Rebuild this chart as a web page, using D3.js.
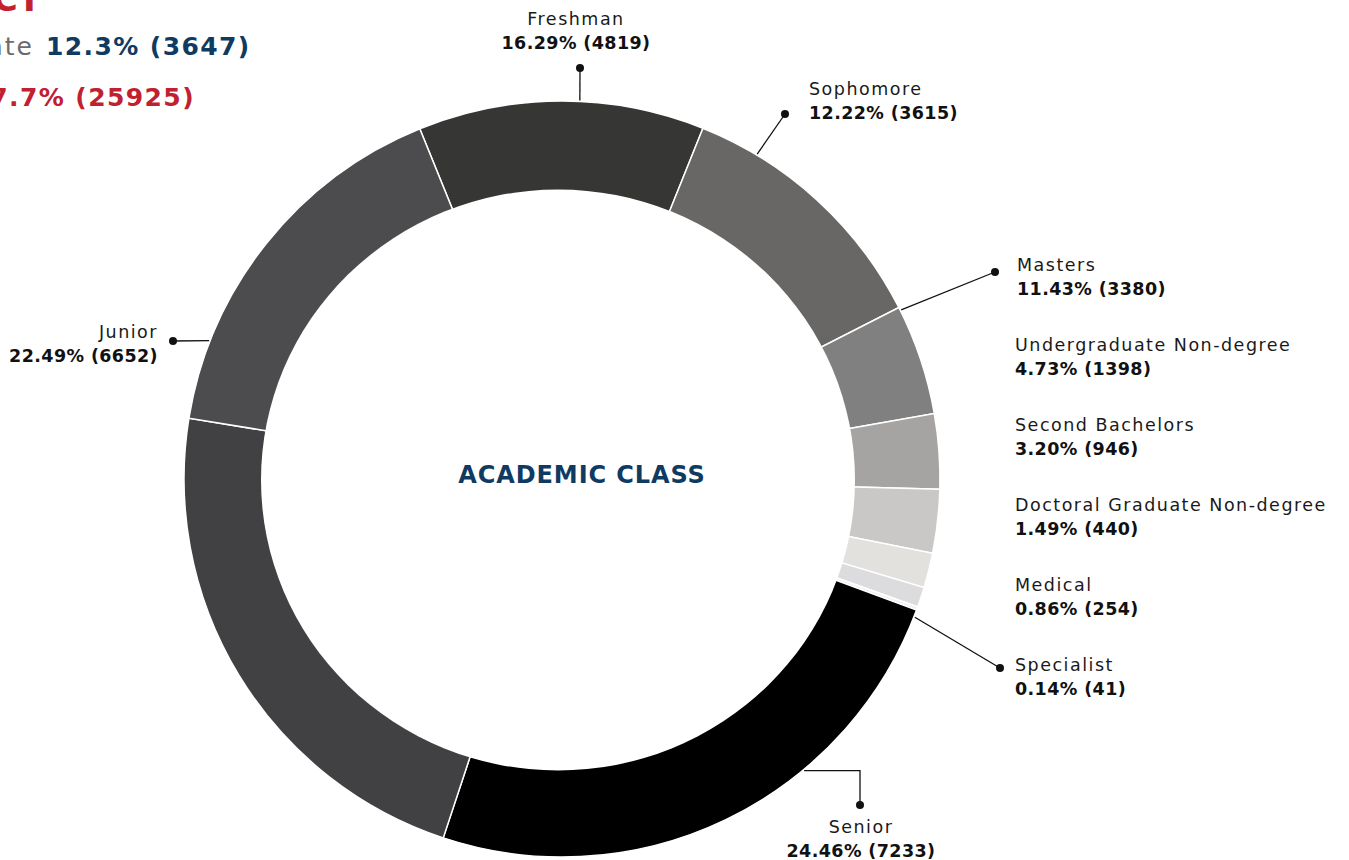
<!DOCTYPE html>
<html>
<head>
<meta charset="utf-8">
<script src="https://cdn.jsdelivr.net/npm/d3@7"></script>
<style>
  body { margin: 0; background: #fff; overflow: hidden; }
  svg { display: block; font-family: "DejaVu Sans", sans-serif; }
  .name { font-size: 17.5px; fill: #1a1a1a; letter-spacing: 1.5px; }
  .val { font-size: 17.5px; font-weight: bold; fill: #111; letter-spacing: 0.4px; }
  .head { font-size: 25px; font-weight: bold; letter-spacing: 1.4px; }
</style>
</head>
<body>
<svg width="1349" height="860"></svg>
<script>
// slices in drawing order, clockwise from the top
const categories = ['Sophomore', 'Masters', 'Undergraduate Non-degree', 'Second Bachelors', 'Doctoral',
  'Doctoral Graduate Non-degree', 'Medical', 'Specialist', 'Senior', 'Junior', 'Freshman'];
const counts = [3615, 3380, 1398, 946, 805, 440, 254, 41, 7233, 6652, 4819];
const colors = ['#363634', '#686765', '#7f807f', '#a6a4a3', '#c9c8c7', '#e3e1de', '#dcdbdd', '#efefef',
  '#000000', '#414143', '#4c4b4d'];

// callout labels as printed on the chart
const labelNames = ['Freshman', 'Sophomore', 'Masters', 'Undergraduate Non-degree', 'Second Bachelors',
  'Doctoral Graduate Non-degree', 'Medical', 'Specialist', 'Junior', 'Senior'];
const labelValues = ['16.29% (4819)', '12.22% (3615)', '11.43% (3380)', '4.73% (1398)', '3.20% (946)',
  '1.49% (440)', '0.86% (254)', '0.14% (41)', '22.49% (6652)', '24.46% (7233)'];

// header fragments (cut by the left edge)
const headerTitle = 'IMPACT';
const headerPre = 'Graduate';
const headerValues = ['12.3% (3647)', '87.7% (25925)'];

const svg = d3.select('svg');
const cx = 562, cy = 479;
const outerR = 378, innerR = 285;

const start = -22.1 * Math.PI / 180;
const pie = d3.pie().sort(null).startAngle(start).endAngle(start + 2 * Math.PI);
const arc = d3.arc().innerRadius(innerR).outerRadius(outerR);
const arcs = pie(counts);

const g = svg.append('g').attr('transform', `translate(${cx},${cy})`);
g.selectAll('path')
  .data(arcs)
  .enter()
  .append('path')
  .attr('d', arc)
  .attr('fill', (d, i) => colors[i])
  .attr('stroke', '#fff')
  .attr('stroke-width', 1.5);

// the hole is a little off-centre in the original
svg.append('ellipse')
  .attr('cx', 558).attr('cy', 480)
  .attr('rx', 297).attr('ry', 290.5)
  .attr('fill', '#fff');

svg.append('text')
  .attr('x', 582)
  .attr('y', 483)
  .attr('text-anchor', 'middle')
  .style('font-size', '24px')
  .style('font-weight', 'bold')
  .style('letter-spacing', '0.9px')
  .style('fill', '#0f3a62')
  .text('ACADEMIC CLASS');

// label layout: text anchor, position, dot and leader end angle (deg, clockwise from top)
const layout = [
  { x: 576, y: 25, anchor: 'middle', dot: [580, 68], end: 2.7 },
  { x: 809, y: 95, anchor: 'start', dot: [785, 114], end: 31 },
  { x: 1017, y: 271, anchor: 'start', dot: [995, 272], end: 63.5 },
  { x: 1015, y: 351, anchor: 'start' },
  { x: 1015, y: 431, anchor: 'start' },
  { x: 1015, y: 511, anchor: 'start' },
  { x: 1015, y: 591, anchor: 'start' },
  { x: 1015, y: 671, anchor: 'start', dot: [1000, 668], end: 111.4 },
  { x: 158, y: 338, anchor: 'end', dot: [173, 341], end: 291.4 },
  { x: 861, y: 833, anchor: 'middle', dot: [860, 805], end: 140.3, elbow: true }
];

const onArc = (deg, r) => {
  const a = deg * Math.PI / 180;
  return [cx + r * Math.sin(a), cy - r * Math.cos(a)];
};

labelNames.forEach((name, i) => {
  const l = layout[i];
  const t = svg.append('g');
  t.append('text').attr('class', 'name')
    .attr('x', l.x).attr('y', l.y).attr('text-anchor', l.anchor).text(name);
  t.append('text').attr('class', 'val')
    .attr('x', l.x).attr('y', l.y + 24).attr('text-anchor', l.anchor).text(labelValues[i]);

  if (l.dot) {
    const e = onArc(l.end, outerR + 1);
    let pts = [l.dot, e];
    if (l.elbow) pts = [l.dot, [l.dot[0], e[1]], e];
    svg.append('path')
      .attr('d', d3.line()(pts))
      .attr('fill', 'none')
      .attr('stroke', '#111')
      .attr('stroke-width', 1.3);
    svg.append('circle')
      .attr('cx', l.dot[0]).attr('cy', l.dot[1]).attr('r', 4)
      .attr('fill', '#111');
  }
});

// header remnants at top left
svg.append('text')
  .attr('x', 41).attr('y', 11).attr('text-anchor', 'end')
  .style('font-size', '34px').style('font-weight', 'bold').style('fill', '#c0202f')
  .text(headerTitle);

svg.append('text')
  .attr('x', 34).attr('y', 55).attr('text-anchor', 'end')
  .attr('class', 'head')
  .style('font-weight', 'normal').style('letter-spacing', '2px').style('fill', '#6b6b6b')
  .text(headerPre);

svg.append('text')
  .attr('x', 46).attr('y', 55)
  .attr('class', 'head').style('fill', '#0f3a62')
  .text(headerValues[0]);

svg.append('text')
  .attr('x', 195).attr('y', 106).attr('text-anchor', 'end')
  .attr('class', 'head').style('fill', '#c0202f')
  .text(headerValues[1]);
</script>
</body>
</html>
